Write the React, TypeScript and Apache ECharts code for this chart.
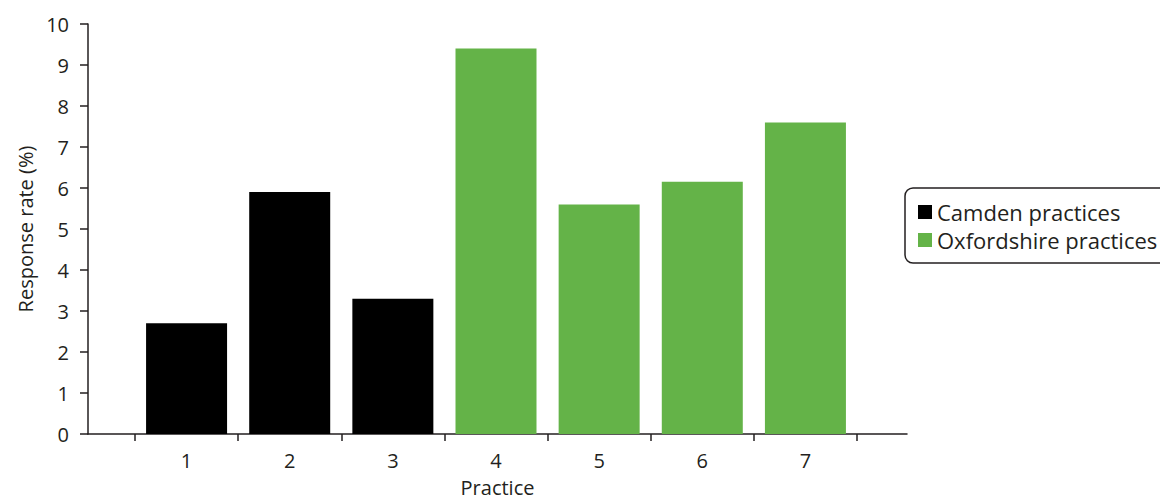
import React, { useEffect, useRef } from "react";
import * as echarts from "echarts";

const categories = ["1", "2", "3", "4", "5", "6", "7"];
const camdenValues = [2.7, 5.9, 3.3, null, null, null, null];
const oxfordValues = [null, null, null, 9.4, 5.6, 6.15, 7.6];
const seriesNames = ["Camden practices", "Oxfordshire practices"];
const yTicks = { min: 0, max: 10, interval: 1 };

const INK = "#231f20";
const FONT = "Open Sans";

export default function App() {
  const ref = useRef<HTMLDivElement>(null);
  useEffect(() => {
    if (!ref.current) return;
    const chart = echarts.init(ref.current, null, { renderer: "svg" });
    chart.setOption({
      animation: false,
      textStyle: { fontFamily: FONT, color: INK },
      grid: [
        { left: 88, right: 253, top: 24, bottom: 67, outerBoundsMode: "none", containLabel: false },
        { left: 135, right: 303, top: 24, bottom: 67, outerBoundsMode: "none", containLabel: false },
      ],
      legend: {
        orient: "vertical",
        left: 905,
        top: 188,
        data: seriesNames,
        icon: "rect",
        itemWidth: 14,
        itemHeight: 14,
        itemGap: 6,
        padding: [13, 20, 12, 13],
        borderColor: INK,
        borderWidth: 1.5,
        borderRadius: 8,
        textStyle: { fontFamily: FONT, fontSize: 22, color: INK },
      },
      xAxis: [
        {
          gridIndex: 0,
          type: "category",
          data: [""],
          axisLine: { show: true, lineStyle: { color: INK, width: 1.5 } },
          axisTick: { show: false },
          axisLabel: { show: false },
          splitLine: { show: false },
          name: "Practice",
          nameLocation: "middle",
          nameGap: 43,
          nameTextStyle: { fontFamily: FONT, fontSize: 20, color: INK },
        },
        {
          gridIndex: 1,
          type: "category",
          data: categories,
          boundaryGap: true,
          axisLine: { show: false },
          axisTick: { show: true, length: 7, lineStyle: { color: INK, width: 1.5 } },
          axisLabel: { fontFamily: FONT, fontSize: 20, color: INK, margin: 16 },
          splitLine: { show: false },
        },
      ],
      yAxis: [
        {
          gridIndex: 0,
          type: "value",
          min: yTicks.min,
          max: yTicks.max,
          interval: yTicks.interval,
          axisLine: { show: true, lineStyle: { color: INK, width: 1.5 } },
          axisTick: { show: true, length: 8, lineStyle: { color: INK, width: 1.5 } },
          axisLabel: { fontFamily: FONT, fontSize: 20, color: INK, margin: 19 },
          splitLine: { show: false },
          name: "Response rate (%)",
          nameLocation: "middle",
          nameGap: 53,
          nameTextStyle: { fontFamily: FONT, fontSize: 20, color: INK },
        },
        {
          gridIndex: 1,
          type: "value",
          min: yTicks.min,
          max: yTicks.max,
          interval: yTicks.interval,
          show: false,
        },
      ],
      series: [
        {
          name: seriesNames[0],
          type: "bar",
          xAxisIndex: 1,
          yAxisIndex: 1,
          data: camdenValues,
          barWidth: 81,
          barGap: "-100%",
          itemStyle: { color: "#000000" },
        },
        {
          name: seriesNames[1],
          type: "bar",
          xAxisIndex: 1,
          yAxisIndex: 1,
          data: oxfordValues,
          barWidth: 81,
          barGap: "-100%",
          itemStyle: { color: "#64b348" },
        },
      ],
    });
    return () => chart.dispose();
  }, []);
  return (
    <div
      ref={ref}
      style={{ position: "fixed", left: 0, top: 0, width: 1160, height: 501, background: "#fff" }}
    />
  );
}
